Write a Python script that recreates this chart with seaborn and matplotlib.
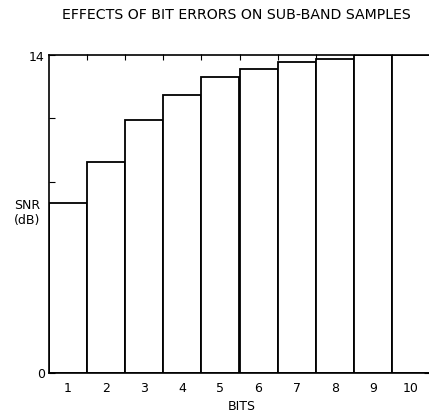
import numpy as np
import pandas as pd
import matplotlib
matplotlib.use('Agg')
import matplotlib.pyplot as plt
import seaborn as sns

# Data
bits = ['1', '2', '3', '4', '5', '6', '7', '8', '9', '10']
snr_db = [7.45, 9.25, 11.1, 12.2, 13.0, 13.35, 13.65, 13.8, 14.0, 14.0]

df = pd.DataFrame({'bits': bits, 'snr': snr_db})

sns.set_style('white')
plt.rcParams['font.family'] = ['DejaVu Sans']
plt.rcParams['text.color'] = 'black'
plt.rcParams['xtick.color'] = 'black'
plt.rcParams['ytick.color'] = 'black'
plt.rcParams['axes.labelcolor'] = 'black'

fig = plt.figure(figsize=(4.29, 4.14), dpi=100)
ax = fig.add_axes([49 / 429, 40.5 / 414, 381 / 429, 318 / 414])

sns.barplot(data=df, x='bits', y='snr', ax=ax, width=1.0, color='white',
            edgecolor='black', linewidth=1.3, saturation=1)

ax.set_xlim(-0.5, 9.5)
ax.set_ylim(0, 14)

# y ticks: 5 divisions, only ends labelled
yt = np.linspace(0, 14, 6)
ax.set_yticks(yt)
ax.set_yticklabels(['0', '', '', '', '', '14'], fontsize=9)
ax.tick_params(axis='y', direction='in', length=4, width=0.8, left=True,
               right=True, pad=3)
ax.tick_params(axis='x', length=0, labelsize=9, pad=6)

# inward ticks on top edge at bar boundaries
sec = ax.secondary_xaxis('top')
sec.set_xticks(np.arange(0.5, 9.5, 1.0))
sec.set_xticklabels([])
sec.tick_params(direction='in', length=4, width=0.8)
sec.spines['top'].set_visible(False)

for s in ax.spines.values():
    s.set_linewidth(1.2)
    s.set_color('black')

ax.set_xlabel('')
ax.set_ylabel('')
fig.text(242 / 429, 1 - 407 / 414, 'BITS', ha='center', va='center', fontsize=9)
fig.text(27 / 429, 1 - 213 / 414, 'SNR\n(dB)', ha='center', va='center',
         fontsize=9, linespacing=1.2)
fig.text(236 / 429, 1 - 15 / 414, 'EFFECTS OF BIT ERRORS ON SUB-BAND SAMPLES',
         ha='center', va='center', fontsize=10.2)

fig.savefig('out.png', dpi=100)
